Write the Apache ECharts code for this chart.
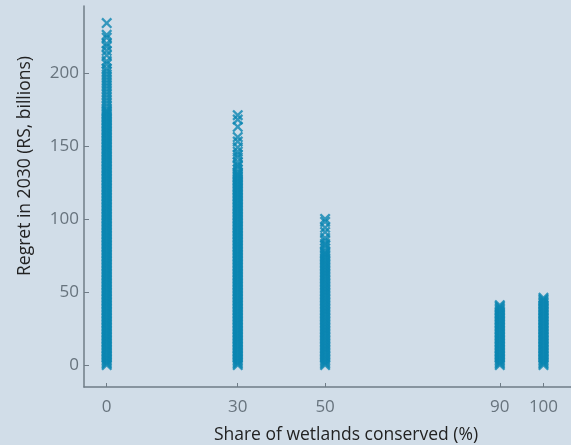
<!DOCTYPE html>
<html>
<head>
<meta charset="utf-8">
<script src="https://cdn.jsdelivr.net/npm/echarts@6/dist/echarts.min.js"></script>
<style>
html,body{margin:0;padding:0;background:#d1dde8;}
#c{width:571px;height:445px;}
</style>
</head>
<body>
<div id="c"></div>
<script>
// Share of wetlands conserved (%) categories
const shares = [0, 30, 50, 90, 100];
const xTicks = [0, 30, 50, 90, 100];
const yTicks = [0, 50, 100, 150, 200];

// Regret in 2030 (RS, billions) read from each column
const regret0 = [0,1,2,3,4,5,6,7,8,9,10,11,12,13,14,15,16,17,18,19,20,21,22,23,24,25,26,27,28,29,30,31,32,33,34,35,36,37,38,39,40,41,42,43,44,45,46,47,48,49,50,51,52,53,54,55,56,57,58,59,60,61,62,63,64,65,66,67,68,69,70,71,72,73,74,75,76,77,78,79,80,81,82,83,84,85,86,87,88,89,90,91,92,93,94,95,96,97,98,99,100,101,102,103,104,105,106,107,108,109,110,111,112,113,114,115,116,117,118,119,120,121,122,123,124,125,126,127,128,129,130,131,132,133,134,135,136,137,138,139,140,141,142,143,144,145,146,147,148,149,150,151,152,153,154,155,156,157,158,159,160,161,162,163,164,165,166,167,168,169,170,171,172,173,174,175,177,179,181,183,185,187,189,191,193,195,197,199,201,203,206,208,212,215,218,220,224,226,234];
const regret30 = [0,1,2,3,4,5,6,7,8,9,10,11,12,13,14,15,16,17,18,19,20,21,22,23,24,25,26,27,28,29,30,31,32,33,34,35,36,37,38,39,40,41,42,43,44,45,46,47,48,49,50,51,52,53,54,55,56,57,58,59,60,61,62,63,64,65,66,67,68,69,70,71,72,73,74,75,76,77,78,79,80,81,82,83,84,85,86,87,88,89,90,91,92,93,94,95,96,97,98,99,100,101,102,103,104,105,106,107,108,109,110,111,112,113,114,115,116,117,118,119,120,121,122,123,124,125,126,127,128,129,130,131,132,134,136,137,139,142,144,146,149,153,156,163,168,171];
const regret50 = [0,1,2,3,4,5,6,7,8,9,10,11,12,13,14,15,16,17,18,19,20,21,22,23,24,25,26,27,28,29,30,31,32,33,34,35,36,37,38,39,40,41,42,43,44,45,46,47,48,49,50,51,52,53,54,55,56,57,58,59,60,61,62,63,64,65,66,67,68,69,70,71,72,73,74,75,76,77,78,80,82,83,85,87,91,94,98,100];
const regret90 = [0,1,2,3,4,5,6,7,8,9,10,11,12,13,14,15,16,17,18,19,20,21,22,23,24,25,26,27,28,29,30,31,32,33,34,35,36,37,38,39,40,41];
const regret100 = [0,1,2,3,4,5,6,7,8,9,10,11,12,13,14,15,16,17,18,19,20,21,22,23,24,25,26,27,28,29,30,31,32,33,34,35,36,37,38,39,40,41,42,43,44,45,46];

const columns = [regret0, regret30, regret50, regret90, regret100];
const points = [];
columns.forEach((vals, i) => vals.forEach(v => points.push([shares[i], v])));

const crossPath = 'path://M0,1.5L1.5,0L5,3.5L8.5,0L10,1.5L6.5,5L10,8.5L8.5,10L5,6.5L1.5,10L0,8.5L3.5,5Z';
const axisGray = '#6f7c87';
const labelGray = '#67737d';
const font = 'Open Sans';

const chart = echarts.init(document.getElementById('c'), null, {renderer: 'canvas'});
chart.setOption({
  backgroundColor: '#d1dde8',
  animation: false,
  grid: {left: 84, right: 0, top: 6, bottom: 58},
  xAxis: {
    type: 'value', min: -5.2, max: 106.3,
    splitLine: {show: false},
    axisLine: {show: true, onZero: false, lineStyle: {color: axisGray, width: 1.5}},
    axisTick: {show: true, inside: true, length: 4, customValues: xTicks, lineStyle: {color: axisGray}},
    axisLabel: {customValues: xTicks, color: labelGray, fontSize: 17, fontFamily: font, margin: 12}
  },
  yAxis: {
    type: 'value', min: -15, max: 245.7,
    splitLine: {show: false},
    axisLine: {show: true, onZero: false, lineStyle: {color: axisGray, width: 1.5}},
    axisTick: {show: true, inside: true, length: 5, customValues: yTicks, lineStyle: {color: axisGray}},
    axisLabel: {customValues: yTicks, color: labelGray, fontSize: 17, fontFamily: font, margin: 5}
  },
  graphic: [
    {type: 'text', x: 346, y: 435, style: {text: 'Share of wetlands conserved (%)', fill: '#222', font: '17.5px "Open Sans"', align: 'center', verticalAlign: 'middle'}},
    {type: 'text', rotation: Math.PI / 2, x: 25, y: 166, style: {text: 'Regret in 2030 (RS, billions)', fill: '#222', font: '17.5px "Open Sans"', align: 'center', verticalAlign: 'middle'}}
  ],
  series: [{
    type: 'scatter',
    data: points,
    symbol: crossPath,
    symbolSize: 11,
    itemStyle: {color: '#0b86b2'}
  }]
});
</script>
</body>
</html>
